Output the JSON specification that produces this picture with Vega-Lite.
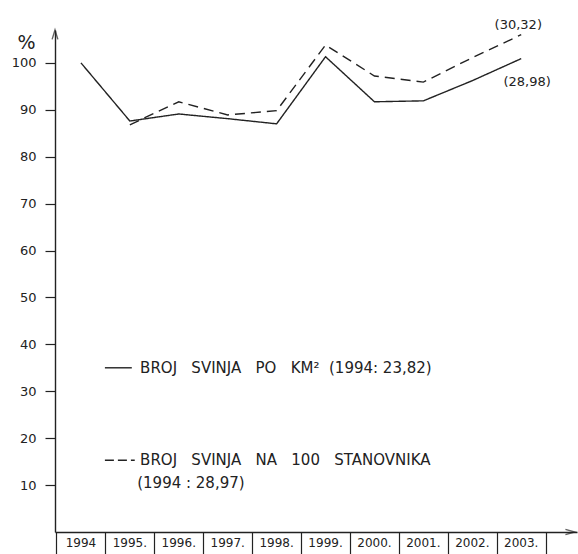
{
  "$schema": "https://vega.github.io/schema/vega-lite/v6.json",
  "width": 522,
  "height": 502,
  "autosize": {"type": "none"},
  "padding": {"left": 55, "top": 30, "right": 1, "bottom": 22},
  "background": "white",
  "config": {
    "view": {"stroke": null},
    "font": "DejaVu Sans",
    "text": {"font": "DejaVu Sans", "color": "#222"}
  },
  "datasets": {
    "series": [
      {"year": 1994, "series": "solid", "value": 100.0},
      {"year": 1995, "series": "solid", "value": 87.6},
      {"year": 1996, "series": "solid", "value": 89.1},
      {"year": 1997, "series": "solid", "value": 88.1},
      {"year": 1998, "series": "solid", "value": 87.0},
      {"year": 1999, "series": "solid", "value": 101.3},
      {"year": 2000, "series": "solid", "value": 91.7},
      {"year": 2001, "series": "solid", "value": 91.9},
      {"year": 2002, "series": "solid", "value": 96.2},
      {"year": 2003, "series": "solid", "value": 100.9},
      {"year": 1995, "series": "dashed", "value": 86.8},
      {"year": 1996, "series": "dashed", "value": 91.7},
      {"year": 1997, "series": "dashed", "value": 88.9},
      {"year": 1998, "series": "dashed", "value": 89.8},
      {"year": 1999, "series": "dashed", "value": 103.8},
      {"year": 2000, "series": "dashed", "value": 97.2},
      {"year": 2001, "series": "dashed", "value": 95.9},
      {"year": 2002, "series": "dashed", "value": 101.1},
      {"year": 2003, "series": "dashed", "value": 106.0}
    ],
    "years": [
      {"year": 1994, "label": "1994"},
      {"year": 1995, "label": "1995."},
      {"year": 1996, "label": "1996."},
      {"year": 1997, "label": "1997."},
      {"year": 1998, "label": "1998."},
      {"year": 1999, "label": "1999."},
      {"year": 2000, "label": "2000."},
      {"year": 2001, "label": "2001."},
      {"year": 2002, "label": "2002."},
      {"year": 2003, "label": "2003."}
    ],
    "one": [{}]
  },
  "layer": [
    {
      "data": {"name": "series"},
      "mark": {"type": "line", "color": "#222", "strokeWidth": 1.4},
      "encoding": {
        "x": {
          "field": "year", "type": "quantitative",
          "scale": {"domain": [1993.47, 2004.14], "nice": false, "zero": false},
          "axis": {
            "values": [1993.5, 1994.5, 1995.5, 1996.5, 1997.5, 1998.5, 1999.5, 2000.5, 2001.5, 2002.5, 2003.5],
            "labels": false, "title": null, "grid": false,
            "tickSize": 22, "tickColor": "#222", "tickWidth": 1.2,
            "domainColor": "#222", "domainWidth": 1.4
          }
        },
        "y": {
          "field": "value", "type": "quantitative",
          "scale": {"domain": [0, 107], "nice": false},
          "axis": {
            "values": [10, 20, 30, 40, 50, 60, 70, 80, 90, 100],
            "grid": false, "tickSize": 10, "tickColor": "#222", "tickWidth": 1.2,
            "domainColor": "#222", "domainWidth": 1.4,
            "labelFontSize": 13, "labelColor": "#222", "labelPadding": 9,
            "title": "%", "titleAngle": 0, "titleX": -29, "titleY": 12,
            "titleAlign": "center", "titleBaseline": "middle",
            "titleFontSize": 19, "titleFontWeight": "normal", "titleColor": "#222"
          }
        },
        "detail": {"field": "series"},
        "strokeDash": {
          "field": "series", "type": "nominal",
          "scale": {"domain": ["solid", "dashed"], "range": [[1, 0], [10, 6]]},
          "legend": null
        }
      }
    },
    {
      "data": {"name": "years"},
      "mark": {"type": "text", "fontSize": 12, "align": "center", "baseline": "middle"},
      "encoding": {
        "x": {"field": "year", "type": "quantitative"},
        "y": {"datum": -2.4},
        "text": {"field": "label"}
      }
    },
    {
      "data": {"name": "one"},
      "mark": {"type": "point", "shape": "M -0.55 0.9 L 0 -0.9 L 0.55 0.9", "filled": false, "stroke": "#222", "strokeWidth": 1.4, "size": 110},
      "encoding": {"x": {"datum": 1993.47}, "y": {"datum": 106.0}}
    },
    {
      "data": {"name": "one"},
      "mark": {"type": "point", "shape": "M -0.9 -0.5 L 0.9 0 L -0.9 0.5", "filled": false, "stroke": "#222", "strokeWidth": 1.4, "size": 110},
      "encoding": {"x": {"datum": 2004.0}, "y": {"datum": 0}}
    },
    {
      "data": {"name": "one"},
      "mark": {"type": "text", "fontSize": 13, "align": "center", "baseline": "middle"},
      "encoding": {"x": {"datum": 2002.94}, "y": {"datum": 108.1}, "text": {"value": "(30,32)"}}
    },
    {
      "data": {"name": "one"},
      "mark": {"type": "text", "fontSize": 13, "align": "center", "baseline": "middle"},
      "encoding": {"x": {"datum": 2003.12}, "y": {"datum": 96.0}, "text": {"value": "(28,98)"}}
    },
    {
      "data": {"name": "one"},
      "mark": {"type": "rule", "color": "#222", "strokeWidth": 1.4},
      "encoding": {"x": {"datum": 1994.49}, "x2": {"datum": 1995.04}, "y": {"datum": 35.0}}
    },
    {
      "data": {"name": "one"},
      "mark": {"type": "rule", "color": "#222", "strokeWidth": 1.4, "strokeDash": [9, 4]},
      "encoding": {"x": {"datum": 1994.49}, "x2": {"datum": 1995.1}, "y": {"datum": 15.3}}
    },
    {
      "data": {"name": "one"},
      "mark": {"type": "text", "fontSize": 15, "align": "left", "baseline": "middle"},
      "encoding": {"x": {"datum": 1995.21}, "y": {"datum": 35.0}, "text": {"value": "BROJ\u00a0\u00a0 SVINJA\u00a0\u00a0 PO\u00a0\u00a0 KM²\u00a0 (1994: 23,82)"}}
    },
    {
      "data": {"name": "one"},
      "mark": {"type": "text", "fontSize": 15, "align": "left", "baseline": "middle"},
      "encoding": {"x": {"datum": 1995.21}, "y": {"datum": 15.3}, "text": {"value": "BROJ\u00a0\u00a0 SVINJA\u00a0\u00a0 NA\u00a0\u00a0 100\u00a0\u00a0 STANOVNIKA"}}
    },
    {
      "data": {"name": "one"},
      "mark": {"type": "text", "fontSize": 15, "align": "left", "baseline": "middle"},
      "encoding": {"x": {"datum": 1995.15}, "y": {"datum": 10.4}, "text": {"value": "(1994 : 28,97)"}}
    }
  ]
}
